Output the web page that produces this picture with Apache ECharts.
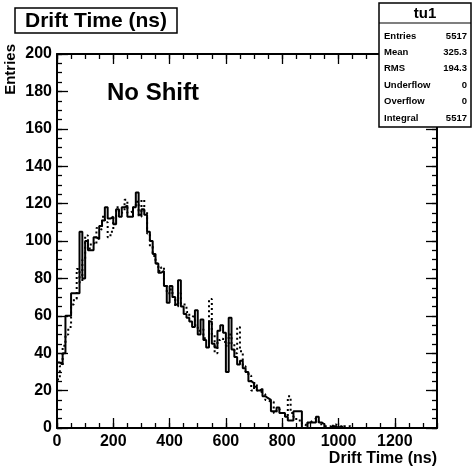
<!DOCTYPE html>
<html><head><meta charset="utf-8">
<script src="https://cdn.jsdelivr.net/npm/echarts@6/dist/echarts.min.js"></script>
<style>html,body{margin:0;padding:0;background:#fff}#c{width:472px;height:471px}</style>
</head><body><div id="c"></div>
<script>
// ---- data (bin width 10 ns, bins start at 0) ----
const BIN_WIDTH = 10;
const solidCounts = [35,34,40,60,60,72,72,72,105,80,
  100,95,95,102,101,108,111,118,112,113,
  109,117,113,118,119,113,113,118,126,114,
  117,114,105,100,93,88,83,84,76,67,
  76,70,66,79,65,61,59,57,54,63,
  50,58,47,43,57,45,43,52,55,51,
  30,59,42,38,34,36,32,30,25,24,
  22,20,21,17,16,15,9,9,11,8,
  8,6,4,4,9,9,9,0,0,3,
  3,3,6,3,2,0,0,1,1,0,
  1,0,0,0,0,0];
const dottedCounts = [26,33,44,50,54,66,69,85,78,90,
  103,96,99,98,107,106,113,110,102,105,
  113,118,115,116,122,115,116,118,121,113,
  122,116,104,97,92,88,84,86,77,72,
  74,70,65,72,66,66,62,60,59,55,
  52,53,48,49,69,50,40,47,48,46,
  44,50,45,40,54,41,33,30,28,20,
  24,20,19,18,15,14,14,8,10,9,
  7,6,17,8,6,4,4,2,1,3,
  4,5,4,2,1,1,1,0,2,1,
  0,1,1,1,0,0];
const xMajorTicks = [0,200,400,600,800,1000,1200];
const yMajorTicks = [0,20,40,60,80,100,120,140,160,180,200];
const statsLabels = ['Entries','Mean','RMS','Underflow','Overflow','Integral'];
const statsValues = ['5517','325.3','194.3','0','0','5517'];

const FONT = "'Liberation Sans', Arial, Helvetica, sans-serif";
function histPoints(counts){
  const pts = counts.map((v,i)=>[i*BIN_WIDTH, v]);
  pts.push([counts.length*BIN_WIDTH, counts[counts.length-1]]);
  return pts;
}
const chart = echarts.init(document.getElementById('c'), null, {renderer:'canvas'});
const X_MIN=0, X_MAX=1350, Y_MIN=0, Y_MAX=200;
function xAx(pos, interval, len, labels, line){
  return {type:'value', position:pos, min:X_MIN, max:X_MAX, interval:interval,
    axisLine:{show:line, onZero:false, lineStyle:{color:'#000', width:2}},
    axisTick:{show:true, inside:true, length:len, lineStyle:{color:'#000', width:1.3}},
    axisLabel:{show:labels, margin:6, color:'#000', fontFamily:FONT, fontWeight:'bold', fontSize:16, showMaxLabel:false,
      formatter:(v)=> xMajorTicks.includes(v) ? String(v) : ''},
    splitLine:{show:false}};
}
function yAx(pos, interval, len, labels, line){
  return {type:'value', position:pos, min:Y_MIN, max:Y_MAX, interval:interval,
    axisLine:{show:line, onZero:false, lineStyle:{color:'#000', width:2}},
    axisTick:{show:true, inside:true, length:len, lineStyle:{color:'#000', width:1.3}},
    axisLabel:{show:labels, margin:5, color:'#000', fontFamily:FONT, fontWeight:'bold', fontSize:16,
      formatter:(v)=> yMajorTicks.includes(v) ? String(v) : ''},
    splitLine:{show:false}};
}
const rowY0 = 36, rowStep = 16.4;
const statsGraphics = [];
statsLabels.forEach((lab,i)=>{
  statsGraphics.push({type:'text', x:384, y:rowY0+i*rowStep, z:101,
    style:{text:lab, fill:'#000', font:"bold 9.5px "+FONT, align:'left', verticalAlign:'middle'}});
  statsGraphics.push({type:'text', x:467, y:rowY0+i*rowStep, z:101,
    style:{text:statsValues[i], fill:'#000', font:"bold 9.5px "+FONT, align:'right', verticalAlign:'middle'}});
});
chart.setOption({
  animation:false,
  backgroundColor:'#fff',
  grid:{left:57, right:35, top:54, bottom:43},
  xAxis:[xAx('bottom',200,10,true,true), xAx('bottom',50,5,false,false),
         xAx('top',200,10,false,true), xAx('top',50,5,false,false)],
  yAxis:[yAx('left',20,11,true,true), yAx('left',5,5,false,false),
         yAx('right',20,11,false,true), yAx('right',5,5,false,false)],
  series:[
    {type:'line', name:'shifted', step:'end', symbol:'none', data:histPoints(solidCounts),
     lineStyle:{color:'#000', width:2}, z:3},
    {type:'line', name:'no shift', step:'end', symbol:'none', data:histPoints(dottedCounts),
     lineStyle:{color:'#000', width:2, type:[2,3]}, z:2}
  ],
  graphic:[
    {type:'rect', shape:{x:15, y:8, width:162, height:25}, z:100,
     style:{fill:'#fff', stroke:'#000', lineWidth:1.5}},
    {type:'text', x:96, y:21, z:101,
     style:{text:'Drift Time (ns)', fill:'#000', font:"bold 21px "+FONT, align:'center', verticalAlign:'middle'}},
    {type:'text', x:107, y:93, z:101,
     style:{text:'No Shift', fill:'#000', font:"bold 24px "+FONT, align:'left', verticalAlign:'middle'}},
    {type:'text', x:437, y:459, z:101,
     style:{text:'Drift Time (ns)', fill:'#000', font:"bold 16px "+FONT, align:'right', verticalAlign:'middle'}},
    {type:'text', x:11, y:44, rotation:Math.PI/2, z:101,
     style:{text:'Entries', fill:'#000', font:"bold 15px "+FONT, align:'right', verticalAlign:'middle'}},
    {type:'rect', shape:{x:379, y:3, width:92, height:124}, z:100,
     style:{fill:'#fff', stroke:'#000', lineWidth:1.5}},
    {type:'line', shape:{x1:379, y1:23, x2:471, y2:23}, z:101, style:{stroke:'#000', lineWidth:1.2}},
    {type:'text', x:425, y:13.5, z:101,
     style:{text:'tu1', fill:'#000', font:"bold 15px "+FONT, align:'center', verticalAlign:'middle'}}
  ].concat(statsGraphics)
});
</script></body></html>
